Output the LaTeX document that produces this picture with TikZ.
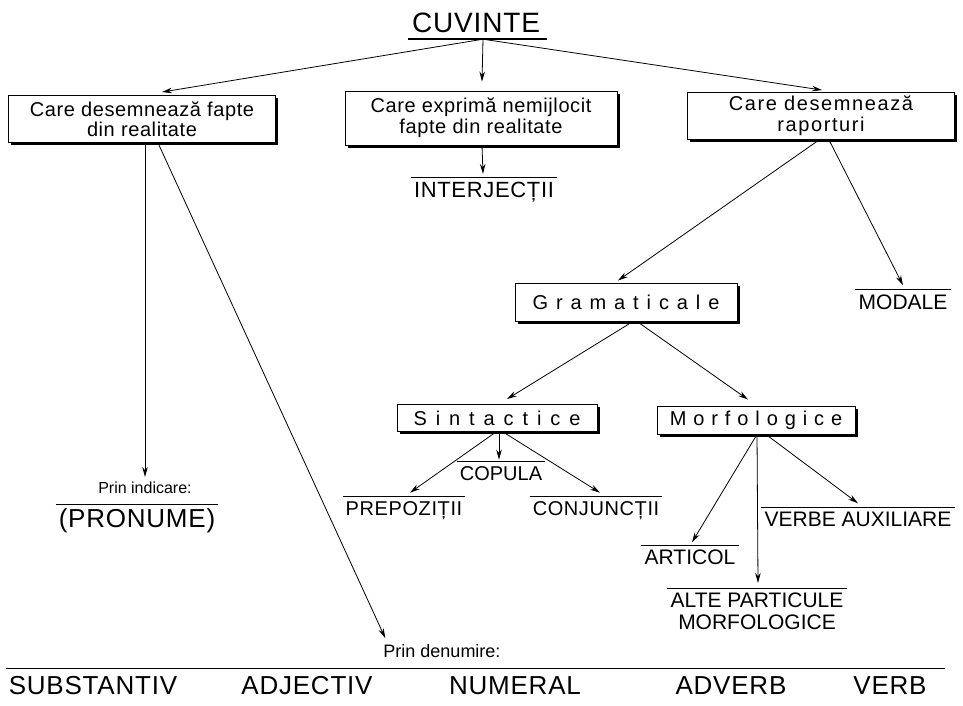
\documentclass[tikz,border=0pt]{standalone}
\usepackage{fontspec}
\setmainfont{Liberation Sans}
\newfontfamily\lsA[LetterSpace=3]{Liberation Sans}
\newfontfamily\lsB[LetterSpace=8]{Liberation Sans}
\usetikzlibrary{arrows.meta,shadows}
\newlength\spgap
\newcommand\spread[2]{\setlength\spgap{#1}\spreadfirst#2\relax}
\def\spreadfirst#1{#1\spreadrest}
\def\spreadrest#1{\ifx#1\relax\else\hspace{\spgap}#1\expandafter\spreadrest\fi}
\begin{document}
\begin{tikzpicture}[x=1pt,y=-1pt,
  box/.style={draw, line width=0.9pt, fill=white, inner sep=0pt, align=center,
    drop shadow={shadow xshift=2.5pt, shadow yshift=-2.5pt, opacity=1, fill=black}},
  lbl/.style={inner xsep=3pt, inner ysep=4pt, text height=#1, text depth=0pt},
  plain/.style={inner sep=0pt},
  arr/.style={-{Stealth[length=10pt,width=5.5pt]}, line width=0.8pt},
  ln/.style={line width=0.9pt}]
\useasboundingbox (0,0) rectangle (963,705);
\fill[white] (0,0) rectangle (963,705);

% title
\node[lbl=20pt, inner ysep=7pt, font=\fontsize{28}{30}\selectfont\lsA] (cuv) at (476,22) {CUVINTE};
\draw[line width=1.6pt] ([xshift=-1pt]cuv.south west) -- ([xshift=4pt]cuv.south east);

% first level boxes
\node[box, minimum width=267pt, minimum height=47pt, font=\fontsize{20}{20}\selectfont\lsA] (lbox) at (142,119) {Care desemnează fapte\\din realitate};
\node[box, minimum width=272pt, minimum height=54pt, font=\fontsize{20}{21}\selectfont\lsA] (mbox) at (481,118) {Care exprimă nemijlocit\\fapte din realitate};
\node[box, minimum width=267pt, minimum height=47pt, font=\fontsize{20}{21}\selectfont\lsB] (rbox) at (821,116) {Care desemnează\\raporturi};

\draw[arr] ([xshift=7pt]cuv.south) -- ([xshift=20pt,yshift=3pt]lbox.north);
\draw[arr] ([xshift=7pt]cuv.south) -- ([xshift=1pt,yshift=9pt]mbox.north);
\draw[arr] ([xshift=7pt]cuv.south) -- ([xshift=1pt,yshift=2pt]rbox.north);

% interjectii
\node[lbl=15.8pt, font=\fontsize{22}{24}\selectfont\lsA] (interj) at (484,190) {INTERJECȚII};
\draw[ln] (interj.north west) -- (interj.north east);
\draw[arr] ([xshift=1pt]mbox.south) -- ([xshift=-1pt,yshift=4pt]interj.north);

% left branch
\node[plain, font=\fontsize{16}{18}\selectfont] (indic) at (145,488) {Prin indicare:};
\node[lbl=18.6pt, font=\fontsize{26}{28}\selectfont\lsA] (pron) at (137,518) {(PRONUME)};
\draw[ln] (pron.north west) -- (pron.north east);
\draw[arr] ([xshift=3pt]lbox.south) -- ([yshift=5pt]indic.north);

\node[plain, font=\fontsize{18}{20}\selectfont] (denum) at (442,651) {Prin denumire:};
\draw[arr] ([xshift=16pt]lbox.south) -- ([xshift=2pt,yshift=6pt]denum.north west);

% bottom line and words
\coordinate (bl) at (6,668);
\coordinate (br) at (945,668);
\draw[ln] (bl) -- (br);
\begin{scope}[every node/.style={plain, font=\fontsize{26}{28}\selectfont\lsA}]
\node (w1) at (93,686) {SUBSTANTIV};
\node (w2) at (307,686) {ADJECTIV};
\node (w3) at (515,686) {NUMERAL};
\node (w4) at (731,686) {ADVERB};
\node (w5) at (890,686) {VERB};
\end{scope}

% right branch
\node[box, minimum width=222pt, minimum height=38pt, font=\fontsize{20}{22}\selectfont] (gbox) at (626,302) {\spread{7.9pt}{Gramaticale}};
\node[lbl=15pt, inner ysep=5pt, font=\fontsize{21}{23}\selectfont] (modale) at (903,302) {MODALE};
\draw[ln] (modale.north west) -- (modale.north east);
\draw[arr] ([xshift=-2pt]rbox.south) -- ([xshift=-8pt,yshift=2pt]gbox.north);
\draw[arr] ([xshift=8pt]rbox.south) -- ([yshift=4pt]modale.north);

\node[box, minimum width=200pt, minimum height=27pt, font=\fontsize{20}{22}\selectfont] (sbox) at (497,418) {\spread{8.9pt}{Sintactice}};
\node[box, minimum width=198pt, minimum height=28pt, font=\fontsize{20}{22}\selectfont] (mfbox) at (756,420) {\spread{6.9pt}{Morfologice}};
\draw[arr] ([xshift=7pt]gbox.south) -- ([xshift=10pt,yshift=5pt]sbox.north);
\draw[arr] ([xshift=11pt]gbox.south) -- ([xshift=-8pt,yshift=6pt]mfbox.north);

% sintactice children
\node[lbl=14.3pt, font=\fontsize{20}{22}\selectfont] (copula) at (501,473) {COPULA};
\node[lbl=14.3pt, font=\fontsize{20}{22}\selectfont\lsA] (prep) at (404,508) {PREPOZIȚII};
\node[lbl=14.3pt, font=\fontsize{20}{22}\selectfont\lsA] (conj) at (596,508) {CONJUNCȚII};
\foreach \n in {copula,prep,conj} \draw[ln] (\n.north west) -- (\n.north east);
\draw[arr] ([xshift=2pt]sbox.south) -- ([xshift=-2pt,yshift=2pt]copula.north);
\draw[arr] ([xshift=-1pt]sbox.south) -- ([xshift=6pt,yshift=4pt]prep.north);
\draw[arr] ([xshift=6pt]sbox.south) -- ([xshift=4pt,yshift=4pt]conj.north);

% morfologice children
\node[lbl=15pt, font=\fontsize{21}{23}\selectfont] (verbe) at (858,519) {VERBE AUXILIARE};
\node[lbl=15pt, font=\fontsize{21}{23}\selectfont] (artic) at (690,557) {ARTICOL};
\node[plain, inner xsep=3pt, inner ysep=5pt, anchor=north, align=center, font=\fontsize{21}{22}\selectfont] (alte) at (757,588) {ALTE PARTICULE\\MORFOLOGICE};
\foreach \n in {verbe,artic,alte} \draw[ln] (\n.north west) -- (\n.north east);
\draw[arr] ([xshift=1pt]mfbox.south) -- ([xshift=2pt,yshift=3pt]artic.north);
\draw[arr] ([xshift=1pt]mfbox.south) -- ([xshift=1pt,yshift=5pt]alte.north);
\draw[arr] ([xshift=10pt]mfbox.south) -- ([yshift=4pt]verbe.north);
\end{tikzpicture}
\end{document}
